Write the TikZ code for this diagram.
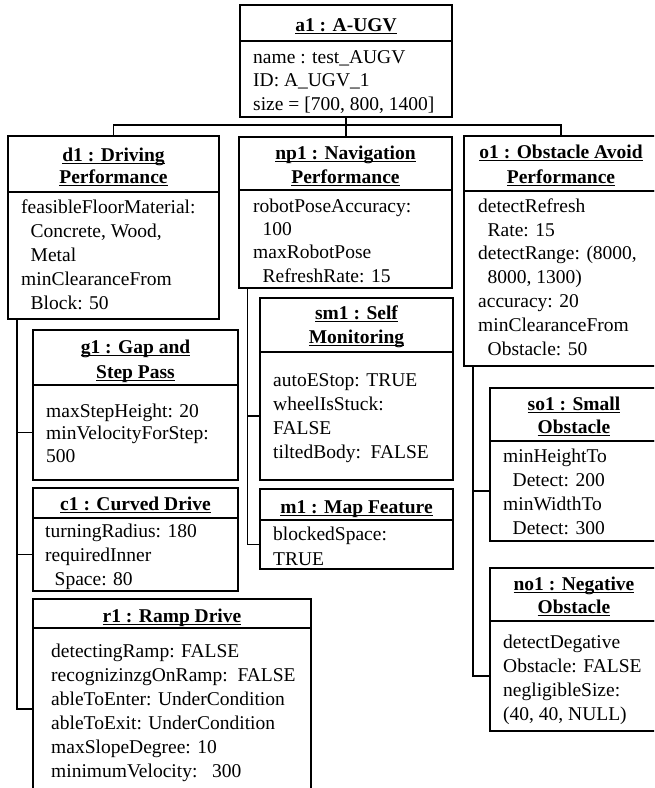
\documentclass[tikz,border=0pt]{standalone}
\usepackage{fontspec}
\setmainfont{Liberation Serif}

% indentation of a wrapped attribute line
\newcommand\indnt{\hspace*{9.5pt}}
% underlined object name, rule at a fixed depth below the baseline
\newcommand\ulbox[1]{\setbox0=\hbox{#1}\rlap{\rule[-3pt]{\wd0}{1.1pt}}\box0}

% text nodes are placed by the baseline of their last line
\tikzset{
  pane/.style={draw, line width=1.1pt, rectangle, inner sep=0pt, outer sep=0pt, anchor=north west},
  ttl/.style={font=\bfseries\fontsize{19.5}{23.5}\selectfont, align=center, anchor=base, inner sep=0pt},
  attr/.style={font=\fontsize{19.5}{23.7}\selectfont, align=left, anchor=base west, inner sep=0pt},
  conn/.style={line width=1.1pt},
}

\begin{document}
\begin{tikzpicture}[x=1pt, y=-1pt]
\useasboundingbox (0,0) rectangle (654,788);
\fill[white] (0,0) rectangle (654,788);
\clip (0,0) rectangle (654,788);

% ---------- a1 : A-UGV ----------
\node[pane, minimum width=212pt, minimum height=36pt] (a1h) at (240,5) {};
\node[pane, minimum width=212pt, minimum height=76pt] (a1) at (a1h.south west) {};
\node[ttl] (a1t) at (346,31) {\ulbox{a1 : A-UGV}};
\node[attr, font=\fontsize{19.5}{23.5}\selectfont] (a1b) at (253,110)
  {name : test\_AUGV\\ID: A\_UGV\_1\\size = [700, 800, 1400]};

% ---------- d1 : Driving Performance ----------
\node[pane, minimum width=211pt, minimum height=56pt] (d1h) at (8,136) {};
\node[pane, minimum width=211pt, minimum height=127pt] (d1) at (d1h.south west) {};
\node[ttl, font=\bfseries\fontsize{19.5}{22}\selectfont] (d1t) at (113.5,183) {\ulbox{d1 : Driving}\\\ulbox{Performance}};
\node[attr, font=\fontsize{19.5}{24}\selectfont] (d1b) at (21,309)
  {feasibleFloorMaterial:\\\indnt Concrete, Wood,\\\indnt Metal\\minClearanceFrom\\\indnt Block: 50};

% ---------- np1 : Navigation Performance ----------
\node[pane, minimum width=213pt, minimum height=53pt] (np1h) at (239,137) {};
\node[pane, minimum width=213pt, minimum height=98pt] (np1) at (np1h.south west) {};
\node[ttl, font=\bfseries\fontsize{19.5}{24}\selectfont] (np1t) at (345.5,183) {\ulbox{np1 : Navigation}\\\ulbox{Performance}};
\node[attr, font=\fontsize{19.5}{23.3}\selectfont] (np1b) at (253,282)
  {robotPoseAccuracy:\\\indnt 100\\maxRobotPose\\\indnt RefreshRate: 15};

% ---------- o1 : Obstacle Avoid Performance ----------
\node[pane, minimum width=194pt, minimum height=55pt] (o1h) at (464,136) {};
\node[pane, minimum width=194pt, minimum height=175pt] (o1) at (o1h.south west) {};
\node[ttl, font=\bfseries\fontsize{19.5}{25}\selectfont] (o1t) at (561,183) {\ulbox{o1 : Obstacle Avoid}\\\ulbox{Performance}};
\node[attr, font=\fontsize{19.5}{23.8}\selectfont] (o1b) at (478,355)
  {detectRefresh\\\indnt Rate: 15\\detectRange: (8000,\\\indnt 8000, 1300)\\accuracy: 20\\minClearanceFrom\\\indnt Obstacle: 50};

% ---------- g1 : Gap and Step Pass ----------
\node[pane, minimum width=205pt, minimum height=55pt] (g1h) at (33,330) {};
\node[pane, minimum width=205pt, minimum height=95pt] (g1) at (g1h.south west) {};
\node[ttl, font=\bfseries\fontsize{19.5}{25}\selectfont] (g1t) at (135.5,378) {\ulbox{g1 : Gap and}\\\ulbox{Step Pass}};
\node[attr, font=\fontsize{19.5}{22.7}\selectfont] (g1b) at (46,462.4)
  {maxStepHeight: 20\\minVelocityForStep:\\500};

% ---------- c1 : Curved Drive ----------
\node[pane, minimum width=205pt, minimum height=30pt] (c1h) at (33,488) {};
\node[pane, minimum width=205pt, minimum height=73pt] (c1) at (c1h.south west) {};
\node[ttl] (c1t) at (135.5,510) {\ulbox{c1 : Curved Drive}};
\node[attr, font=\fontsize{19.5}{24}\selectfont] (c1b) at (45,585)
  {turningRadius: 180\\requiredInner\\\indnt Space: 80};

% ---------- r1 : Ramp Drive ----------
\node[pane, minimum width=278pt, minimum height=29pt] (r1h) at (33,599) {};
\node[pane, minimum width=278pt, minimum height=162pt] (r1) at (r1h.south west) {};
\node[ttl] (r1t) at (172,622) {\ulbox{r1 : Ramp Drive}};
\node[attr, font=\fontsize{19.5}{24}\selectfont] (r1b) at (51,777)
  {detectingRamp: FALSE\\recognizinzgOnRamp:~~FALSE\\ableToEnter: UnderCondition\\ableToExit: UnderCondition\\maxSlopeDegree: 10\\minimumVelocity:~~~300};

% ---------- sm1 : Self Monitoring ----------
\node[pane, minimum width=193pt, minimum height=54pt] (sm1h) at (260,298) {};
\node[pane, minimum width=193pt, minimum height=128pt] (sm1) at (sm1h.south west) {};
\node[ttl, font=\bfseries\fontsize{19.5}{24}\selectfont] (sm1t) at (356.5,343) {\ulbox{sm1 : Self}\\\ulbox{Monitoring}};
\node[attr, font=\fontsize{19.5}{23.7}\selectfont] (sm1b) at (273,458)
  {autoEStop: TRUE\\wheelIsStuck:\\FALSE\\tiltedBody:~~FALSE};

% ---------- m1 : Map Feature ----------
\node[pane, minimum width=193pt, minimum height=31pt] (m1h) at (260,489) {};
\node[pane, minimum width=193pt, minimum height=49pt] (m1) at (m1h.south west) {};
\node[ttl] (m1t) at (356.5,513) {\ulbox{m1 : Map Feature}};
\node[attr, font=\fontsize{19.5}{25}\selectfont] (m1b) at (273,565)
  {blockedSpace:\\TRUE};

% ---------- so1 : Small Obstacle ----------
\node[pane, minimum width=168pt, minimum height=53pt] (so1h) at (490,388) {};
\node[pane, minimum width=168pt, minimum height=100pt] (so1) at (so1h.south west) {};
\node[ttl, font=\bfseries\fontsize{19.5}{23}\selectfont] (so1t) at (574,433) {\ulbox{so1 : Small}\\\ulbox{Obstacle}};
\node[attr, font=\fontsize{19.5}{23.7}\selectfont] (so1b) at (503,534)
  {minHeightTo\\\indnt Detect: 200\\minWidthTo\\\indnt Detect: 300};

% ---------- no1 : Negative Obstacle ----------
\node[pane, minimum width=168pt, minimum height=53pt] (no1h) at (490,568) {};
\node[pane, minimum width=168pt, minimum height=110pt] (no1) at (no1h.south west) {};
\node[ttl, font=\bfseries\fontsize{19.5}{23}\selectfont] (no1t) at (574,613) {\ulbox{no1 : Negative}\\\ulbox{Obstacle}};
\node[attr, font=\fontsize{19.5}{24}\selectfont] (no1b) at (503,720)
  {detectDegative\\Obstacle: FALSE\\negligibleSize:\\(40, 40, NULL)};

% ---------- composition links ----------
\draw[conn] (a1.south) -- (a1.south |- np1h.north);
\draw[conn] (d1h.north) -- ++(0,-11) -| (o1h.north);

\coordinate (dT) at ([xshift=9pt]d1.south west);
\draw[conn] (dT) |- (g1.west);
\draw[conn] (dT) |- (c1.west);
\draw[conn] (dT) |- (r1.west);

\coordinate (nT) at ([xshift=8.5pt]np1.south west);
\draw[conn] (nT) |- (sm1.west);
\draw[conn] (nT) |- (m1.west);

\coordinate (oT) at ([xshift=9pt]o1.south west);
\draw[conn] (oT) |- (so1.west);
\draw[conn] (oT) |- (no1.west);
\end{tikzpicture}
\end{document}
